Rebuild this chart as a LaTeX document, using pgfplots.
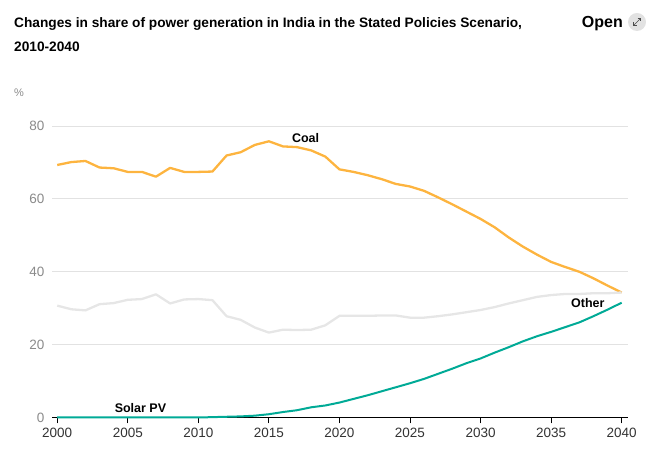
\documentclass[border=0pt]{standalone}
\usepackage{pgfplots}
\pgfplotsset{compat=1.18}
\usepackage{fontspec}
\setmainfont{Liberation Sans}
\definecolor{coal}{HTML}{FDB43F}
\definecolor{other}{HTML}{E6E6E6}
\definecolor{solar}{HTML}{00AA96}
\definecolor{gridc}{HTML}{E2E2E2}
\definecolor{ticky}{HTML}{8A8A8A}
\definecolor{tickx}{HTML}{333333}
\begin{document}
\begin{tikzpicture}
\useasboundingbox (0pt,0pt) rectangle (661pt,454pt);
% title
\node[anchor=base west,inner sep=0,font=\fontsize{13.7}{16}\selectfont\bfseries] at (14pt,426pt) {Changes in share of power generation in India in the Stated Policies Scenario,};
\node[anchor=base west,inner sep=0,font=\fontsize{13.7}{16}\selectfont\bfseries] at (14pt,402pt) {2010-2040};
\node[anchor=base east,inner sep=0,font=\fontsize{16}{18}\selectfont\bfseries] at (623pt,426pt) {Open};
\fill[gridc] (637pt,432pt) circle (9pt);
\draw[black!70,line width=0.7pt] (633.5pt,428.5pt) -- (640.5pt,435.5pt);
\draw[black!70,line width=0.7pt] (637.5pt,435.5pt) -- (640.5pt,435.5pt) -- (640.5pt,432.5pt);
\draw[black!70,line width=0.7pt] (633.5pt,431.5pt) -- (633.5pt,428.5pt) -- (636.5pt,428.5pt);
\node[anchor=base west,inner sep=0,text=ticky,font=\fontsize{11}{12}\selectfont] at (14pt,357pt) {\%};
\begin{axis}[
  at={(52pt,36.5pt)}, anchor=south west,
  scale only axis, width=576pt, height=291.5pt,
  xmin=1999.63, xmax=2040.45, ymin=0, ymax=80,
  clip=false,
  axis x line*=bottom, axis y line*=left,
  x axis line style={black, line width=0.9pt, -},
  y axis line style={draw=none},
  xtick={2000,2005,...,2040},
  ytick={0,20,40,60,80},
  ymajorgrids, grid style={gridc, line width=0.9pt},
  major x tick style={black, line width=0.9pt},
  major y tick style={draw=none},
  tick align=outside, major tick length=6pt,
  xticklabel style={text=tickx, font=\fontsize{13.5}{14}\selectfont, yshift=-1pt},
  yticklabel style={text=ticky, font=\fontsize{13.5}{14}\selectfont, anchor=east, xshift=2pt},
  /pgf/number format/assume math mode=true,
  /pgf/number format/1000 sep={},
]
\addplot[coal, line width=2.3pt, line join=round] coordinates {
(2000,69.3)(2001,70.1)(2002,70.4)(2003,68.6)(2004,68.4)(2005,67.4)(2006,67.4)(2007,66.1)(2008,68.5)(2009,67.4)(2010,67.4)(2011,67.5)(2012,71.9)(2013,72.8)(2014,74.8)(2015,75.8)(2016,74.4)(2017,74.2)(2018,73.3)(2019,71.6)(2020,68.1)(2021,67.4)(2022,66.5)(2023,65.4)(2024,64.1)(2025,63.4)(2026,62.2)(2027,60.4)(2028,58.5)(2029,56.5)(2030,54.5)(2031,52.2)(2032,49.4)(2033,46.9)(2034,44.7)(2035,42.7)(2036,41.3)(2037,40.0)(2038,38.2)(2039,36.2)(2040,34.3)};
\addplot[other, line width=2.3pt, line join=round] coordinates {
(2000,30.7)(2001,29.7)(2002,29.4)(2003,31.1)(2004,31.4)(2005,32.3)(2006,32.5)(2007,33.8)(2008,31.3)(2009,32.4)(2010,32.5)(2011,32.2)(2012,27.8)(2013,26.8)(2014,24.7)(2015,23.3)(2016,24.1)(2017,24.0)(2018,24.1)(2019,25.3)(2020,27.9)(2021,27.9)(2022,27.9)(2023,28.0)(2024,28.0)(2025,27.4)(2026,27.4)(2027,27.8)(2028,28.3)(2029,28.9)(2030,29.5)(2031,30.3)(2032,31.3)(2033,32.2)(2034,33.1)(2035,33.6)(2036,33.9)(2037,33.9)(2038,34.1)(2039,34.1)(2040,34.3)};
\addplot[solar, line width=2pt, line join=round] coordinates {
(2000,0)(2001,0)(2002,0)(2003,0)(2004,0)(2005,0)(2006,0)(2007,0)(2008,0)(2009,0)(2010,0)(2011,0.1)(2012,0.2)(2013,0.3)(2014,0.5)(2015,0.9)(2016,1.5)(2017,2.0)(2018,2.8)(2019,3.3)(2020,4.1)(2021,5.1)(2022,6.1)(2023,7.2)(2024,8.3)(2025,9.4)(2026,10.6)(2027,12.0)(2028,13.4)(2029,14.9)(2030,16.2)(2031,17.8)(2032,19.3)(2033,20.9)(2034,22.3)(2035,23.5)(2036,24.8)(2037,26.1)(2038,27.8)(2039,29.6)(2040,31.5)};
\node[font=\fontsize{12.5}{14}\selectfont\bfseries] at (axis cs:2017.6,76.7) {Coal};
\node[font=\fontsize{12.5}{14}\selectfont\bfseries] at (axis cs:2037.6,31.4) {Other};
\node[font=\fontsize{12.5}{14}\selectfont\bfseries] at (axis cs:2005.9,2.5) {Solar PV};
\end{axis}
\end{tikzpicture}
\end{document}
